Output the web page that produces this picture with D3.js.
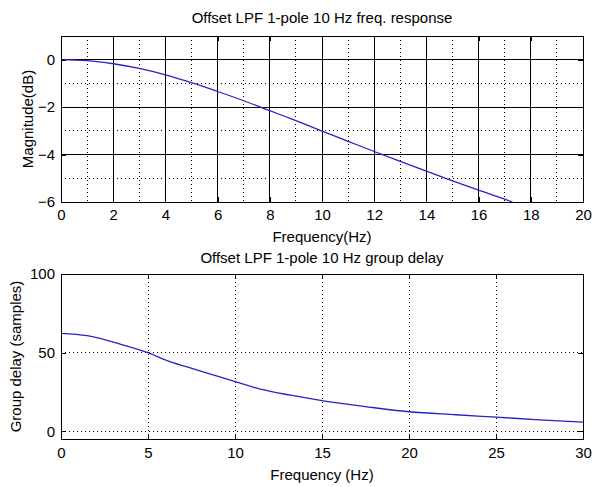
<!DOCTYPE html>
<html><head><meta charset="utf-8">
<script src="https://cdn.jsdelivr.net/npm/d3@7"></script>
<style>
body{margin:0;background:#fff;}
text{font-family:"Liberation Sans",Arial,sans-serif;fill:#000;}
</style></head>
<body>
<svg id="c" width="593" height="487"></svg>
<script>
// Top plot: magnitude response
const magFreq = [0,1,2,3,4,5,6,7,8,9,10,11,12,13,14,15,16,17,17.3];
const magDb   = [0,-0.04,-0.17,-0.37,-0.64,-0.97,-1.34,-1.73,-2.15,-2.57,-3.01,-3.44,-3.87,-4.29,-4.70,-5.11,-5.50,-5.88,-6.0];
const magXTicks = [0,2,4,6,8,10,12,14,16,18,20];
const magYTicks = [0,-2,-4,-6];
const magXMinor = [1,3,5,7,9,11,13,15,17,19];
const magYMinor = [-1,-3,-5];

// Bottom plot: group delay
const gdFreq = [0,1.5,3.4,5,6.1,7.2,8.4,10,11.4,13.2,15,17.5,20,22.7,25,27.5,30];
const gdVal  = [62.3,60.8,55.5,50,45,41.1,37,31.7,27,23,19.6,15.8,12.5,10.6,9.1,7.4,5.9];
const gdXTicks = [0,5,10,15,20,25,30];
const gdYTicks = [0,50,100];

const svg = d3.select("#c");
const lineColor = "#2424c4";
const FS = 15;

function panel(o){
  const g = svg.append("g");
  const x = d3.scaleLinear().domain(o.xd).range([o.l,o.r]);
  const y = d3.scaleLinear().domain(o.yd).range([o.b,o.t]);
  g.append("rect").attr("x",o.l).attr("y",o.t).attr("width",o.r-o.l).attr("height",o.b-o.t).attr("fill","#fff");
  const clipId = o.id+"clip";
  svg.append("clipPath").attr("id",clipId).append("rect").attr("x",o.l).attr("y",o.t).attr("width",o.r-o.l).attr("height",o.b-o.t);
  o.xDot.forEach(v=>g.append("line").attr("x1",x(v)).attr("x2",x(v)).attr("y1",o.t).attr("y2",o.b)
     .attr("stroke","#000").attr("stroke-width",1).attr("stroke-dasharray","1,3").attr("shape-rendering","crispEdges"));
  o.yDot.forEach(v=>g.append("line").attr("y1",y(v)).attr("y2",y(v)).attr("x1",o.l).attr("x2",o.r)
     .attr("stroke","#000").attr("stroke-width",1).attr("stroke-dasharray","1,3").attr("shape-rendering","crispEdges"));
  o.xSolid.forEach(v=>g.append("line").attr("x1",x(v)).attr("x2",x(v)).attr("y1",o.t).attr("y2",o.b)
     .attr("stroke","#000").attr("stroke-width",1).attr("shape-rendering","crispEdges"));
  o.ySolid.forEach(v=>g.append("line").attr("y1",y(v)).attr("y2",y(v)).attr("x1",o.l).attr("x2",o.r)
     .attr("stroke","#000").attr("stroke-width",1).attr("shape-rendering","crispEdges"));
  const data = o.xs.map((v,i)=>[v,o.ys[i]]);
  g.append("path").datum(data).attr("clip-path","url(#"+clipId+")")
    .attr("d",d3.line().x(d=>x(d[0])).y(d=>y(d[1])).curve(d3.curveMonotoneX))
    .attr("fill","none").attr("stroke",lineColor).attr("stroke-width",1.3);
  const ax = d3.axisBottom(x).tickValues(o.xTicks).tickSize(-5).tickPadding(o.xpad).tickFormat(d3.format("d"));
  const axT = d3.axisTop(x).tickValues(o.xTicks).tickSize(-5).tickFormat("");
  const ay = d3.axisLeft(y).tickValues(o.yTicks).tickSize(-5).tickPadding(6).tickFormat(d3.format("d"));
  const ayR = d3.axisRight(y).tickValues(o.yTicks).tickSize(-5).tickFormat("");
  [[ax,`translate(0,${o.b})`],[axT,`translate(0,${o.t})`],[ay,`translate(${o.l},0)`],[ayR,`translate(${o.r},0)`]].forEach(([a,tr])=>{
    const s = g.append("g").attr("transform",tr).call(a);
    s.select(".domain").remove();
    s.selectAll("line").attr("stroke","#000").attr("shape-rendering","crispEdges");
    s.selectAll("text").attr("font-size",FS).attr("font-family","Liberation Sans, Arial, sans-serif");
  });
  g.append("rect").attr("x",o.l).attr("y",o.t).attr("width",o.r-o.l).attr("height",o.b-o.t)
    .attr("fill","none").attr("stroke","#000").attr("stroke-width",1).attr("shape-rendering","crispEdges");
  g.append("text").attr("x",(o.l+o.r)/2).attr("y",o.titleY).attr("text-anchor","middle").attr("font-size",FS).text(o.title);
  g.append("text").attr("x",(o.l+o.r)/2).attr("y",o.xlabY).attr("text-anchor","middle").attr("font-size",FS).text(o.xlab);
  g.append("text").attr("transform",`translate(${o.ylabX},${(o.t+o.b)/2}) rotate(-90)`).attr("text-anchor","middle").attr("font-size",FS).text(o.ylab);
}

panel({id:"top", l:61, r:583, t:36, b:202, xd:[0,20], yd:[-6,1],
  xs:magFreq, ys:magDb, xTicks:magXTicks, yTicks:magYTicks,
  xSolid:magXTicks.slice(1,-1), ySolid:[0,-2,-4], xDot:magXMinor, yDot:magYMinor, xpad:7,
  title:"Offset LPF 1-pole 10 Hz freq. response", titleY:23,
  xlab:"Frequency(Hz)", xlabY:242, ylab:"Magnitude(dB)", ylabX:33});

panel({id:"bot", l:61, r:583, t:274, b:439, xd:[0,30], yd:[-4.8,100],
  xs:gdFreq, ys:gdVal, xTicks:gdXTicks, yTicks:gdYTicks,
  xSolid:[], ySolid:[], xDot:gdXTicks.slice(1,-1), yDot:[0,50,100], xpad:8,
  title:"Offset LPF 1-pole 10 Hz group delay", titleY:263,
  xlab:"Frequency (Hz)", xlabY:480, ylab:"Group delay (samples)", ylabX:21});
</script>
</body></html>
